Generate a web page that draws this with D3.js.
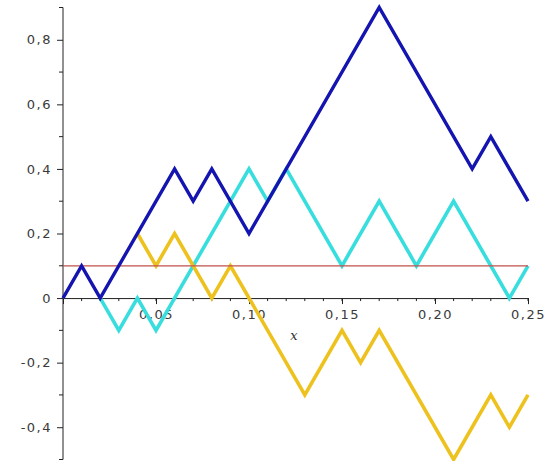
<!DOCTYPE html>
<html>
<head>
<meta charset="utf-8">
<script src="https://cdn.jsdelivr.net/npm/d3@7"></script>
<style>
  html, body { margin: 0; padding: 0; background: #fff; }
  svg { display: block; }
  .tick text { font-family: "DejaVu Sans", sans-serif; font-size: 13px; fill: #3a3a3a; letter-spacing: 1.5px; }
</style>
</head>
<body>
<div id="chart"></div>
<script>
'use strict';

// random walk paths (x, y)
var blueX = [0, 0.01, 0.02, 0.06, 0.07, 0.08, 0.10, 0.17, 0.22, 0.23, 0.25];
var blueY = [0, 0.1, 0, 0.4, 0.3, 0.4, 0.2, 0.9, 0.4, 0.5, 0.3];

var cyanX = [0.02, 0.03, 0.04, 0.05, 0.10, 0.11, 0.12, 0.15, 0.17, 0.19, 0.21, 0.24, 0.25];
var cyanY = [0, -0.1, 0, -0.1, 0.4, 0.3, 0.4, 0.1, 0.3, 0.1, 0.3, 0, 0.1];

var goldX = [0.04, 0.05, 0.06, 0.08, 0.09, 0.13, 0.15, 0.16, 0.17, 0.21, 0.23, 0.24, 0.25];
var goldY = [0.2, 0.1, 0.2, 0, 0.1, -0.3, -0.1, -0.2, -0.1, -0.5, -0.3, -0.4, -0.3];

var levelY = 0.1;

var xTicks = [0.05, 0.10, 0.15, 0.20, 0.25];
var xTickLabels = ['0,05', '0,10', '0,15', '0,20', '0,25'];
var yTicks = [-0.4, -0.2, 0, 0.2, 0.4, 0.6, 0.8];
var yTickLabels = ['-0,4', '-0,2', '0', '0,2', '0,4', '0,6', '0,8'];

var width = 546,
    height = 461;

var x = d3.scaleLinear().domain([0, 0.25]).range([63, 528]);
var y = d3.scaleLinear().domain([-0.5, 0.9]).range([459.5, 7.5]);

var svg = d3.select('#chart')
    .append('svg')
    .attr('width', width)
    .attr('height', height);

function zip(xs, ys) {
    return xs.map(function(v, i) { return [v, ys[i]]; });
}

var line = d3.line()
    .x(function(d) { return x(d[0]); })
    .y(function(d) { return y(d[1]); });

// axes
var xAxis = svg.append('g')
    .attr('transform', 'translate(0,' + y(0) + ')')
    .call(d3.axisBottom(x).tickValues(xTicks).tickSize(6).tickPadding(6)
        .tickFormat(function(d, i) { return xTickLabels[i]; }));
xAxis.select('.domain').attr('stroke', '#222');
xAxis.selectAll('.tick line').attr('stroke', '#222');

var xMinor = d3.range(1, 26).map(function(i) { return i / 100; });
svg.append('g')
    .selectAll('line')
    .data(xMinor)
    .enter().append('line')
    .attr('x1', function(d) { return x(d); })
    .attr('x2', function(d) { return x(d); })
    .attr('y1', y(0))
    .attr('y2', y(0) + 3)
    .attr('stroke', '#222');

var yAxis = svg.append('g')
    .attr('transform', 'translate(' + x(0) + ',0)')
    .call(d3.axisLeft(y).tickValues(yTicks).tickSize(6).tickPadding(5)
        .tickFormat(function(d, i) { return yTickLabels[i]; }));
yAxis.select('.domain').attr('stroke', '#222').attr('d', 'M0,' + y(0.9) + 'V' + y(-0.5));
yAxis.selectAll('.tick line').attr('stroke', '#222');

var yMinor = [-0.5, -0.3, -0.1, 0.1, 0.3, 0.5, 0.7, 0.9];
svg.append('g')
    .selectAll('line')
    .data(yMinor)
    .enter().append('line')
    .attr('x1', x(0) - 4)
    .attr('x2', x(0))
    .attr('y1', function(d) { return y(d); })
    .attr('y2', function(d) { return y(d); })
    .attr('stroke', '#222');

svg.append('text')
    .attr('x', 294)
    .attr('y', 340)
    .attr('text-anchor', 'middle')
    .style('font-family', '"DejaVu Serif", serif')
    .style('font-style', 'italic')
    .style('font-size', '13px')
    .attr('fill', '#333')
    .text('x');

// paths
svg.append('path')
    .attr('d', line(zip(cyanX, cyanY)))
    .attr('fill', 'none')
    .attr('stroke', '#38dede')
    .attr('stroke-width', 3.6)
    .attr('stroke-linejoin', 'miter');

svg.append('path')
    .attr('d', line(zip(goldX, goldY)))
    .attr('fill', 'none')
    .attr('stroke', '#eec21e')
    .attr('stroke-width', 3.6)
    .attr('stroke-linejoin', 'miter');

svg.append('line')
    .attr('x1', x(0))
    .attr('x2', x(0.25))
    .attr('y1', y(levelY))
    .attr('y2', y(levelY))
    .attr('stroke', '#c0504a')
    .attr('stroke-width', 1.2);

svg.append('path')
    .attr('d', line(zip(blueX, blueY)))
    .attr('fill', 'none')
    .attr('stroke', '#1414b0')
    .attr('stroke-width', 3.4)
    .attr('stroke-linejoin', 'miter');
</script>
</body>
</html>
